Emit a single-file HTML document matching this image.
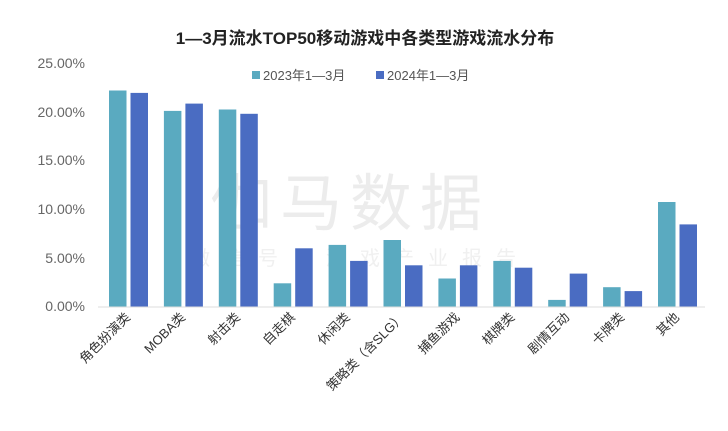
<!DOCTYPE html>
<html><head><meta charset="utf-8"><style>
body{margin:0;background:#fff;}
svg text{font-family:"Liberation Sans","Noto Sans CJK SC",sans-serif;}
</style></head><body>
<svg width="728" height="426" xmlns="http://www.w3.org/2000/svg">
<rect width="728" height="426" fill="#fff"/>
<text x="365" y="44" text-anchor="middle" font-size="17" font-weight="bold" fill="#222">1—3月流水TOP50移动游戏中各类型游戏流水分布</text>
<g font-size="14" fill="#666" text-anchor="end">
<text x="85" y="68">25.00%</text>
<text x="85" y="117">20.00%</text>
<text x="85" y="165">15.00%</text>
<text x="85" y="214">10.00%</text>
<text x="85" y="263">5.00%</text>
<text x="85" y="311">0.00%</text>
</g>
<text x="350" y="225" font-size="62" fill="#ececec" text-anchor="middle" letter-spacing="8">伽马数据</text>
<text x="360" y="265" font-size="20" fill="#f0f0f0" text-anchor="middle" letter-spacing="14">微信号：游戏产业报告</text>
<rect x="252" y="71" width="8" height="8" fill="#5aaac0"/>
<text x="263" y="80" font-size="13" fill="#555">2023年1—3月</text>
<rect x="376" y="71" width="8" height="8" fill="#4a6cc2"/>
<text x="387" y="80" font-size="13" fill="#555">2024年1—3月</text>
<g fill="#5aaac0">
<rect x="109" y="90.5" width="17.5" height="216.2"/>
<rect x="163.9" y="110.9" width="17.5" height="195.8"/>
<rect x="218.8" y="109.5" width="17.5" height="197.2"/>
<rect x="273.7" y="283.3" width="17.5" height="23.4"/>
<rect x="328.6" y="244.9" width="17.5" height="61.8"/>
<rect x="383.5" y="240" width="17.5" height="66.7"/>
<rect x="438.4" y="278.5" width="17.5" height="28.2"/>
<rect x="493.3" y="260.9" width="17.5" height="45.8"/>
<rect x="548.2" y="299.9" width="17.5" height="6.8"/>
<rect x="603.1" y="287.2" width="17.5" height="19.5"/>
<rect x="658" y="202" width="17.5" height="104.7"/>
</g>
<g fill="#4a6cc2">
<rect x="130.5" y="92.9" width="17.5" height="213.8"/>
<rect x="185.4" y="103.6" width="17.5" height="203.1"/>
<rect x="240.3" y="113.8" width="17.5" height="192.9"/>
<rect x="295.2" y="248.3" width="17.5" height="58.4"/>
<rect x="350.1" y="260.9" width="17.5" height="45.8"/>
<rect x="405" y="265.3" width="17.5" height="41.4"/>
<rect x="459.9" y="265.3" width="17.5" height="41.4"/>
<rect x="514.8" y="267.7" width="17.5" height="39"/>
<rect x="569.7" y="273.6" width="17.5" height="33.1"/>
<rect x="624.6" y="291.1" width="17.5" height="15.6"/>
<rect x="679.5" y="224.4" width="17.5" height="82.3"/>
</g>
<line x1="98" y1="307" x2="705" y2="307" stroke="#ddd"/>
<g font-size="13" fill="#333" text-anchor="end">
<text transform="translate(131,318) rotate(-45)">角色扮演类</text>
<text transform="translate(185.9,318) rotate(-45)">MOBA类</text>
<text transform="translate(240.8,318) rotate(-45)">射击类</text>
<text transform="translate(295.7,318) rotate(-45)">自走棋</text>
<text transform="translate(350.6,318) rotate(-45)">休闲类</text>
<text transform="translate(405.5,318) rotate(-45)">策略类（含SLG）</text>
<text transform="translate(460.4,318) rotate(-45)">捕鱼游戏</text>
<text transform="translate(515.3,318) rotate(-45)">棋牌类</text>
<text transform="translate(570.2,318) rotate(-45)">剧情互动</text>
<text transform="translate(625.1,318) rotate(-45)">卡牌类</text>
<text transform="translate(680,318) rotate(-45)">其他</text>
</g>
</svg>
</body></html>
